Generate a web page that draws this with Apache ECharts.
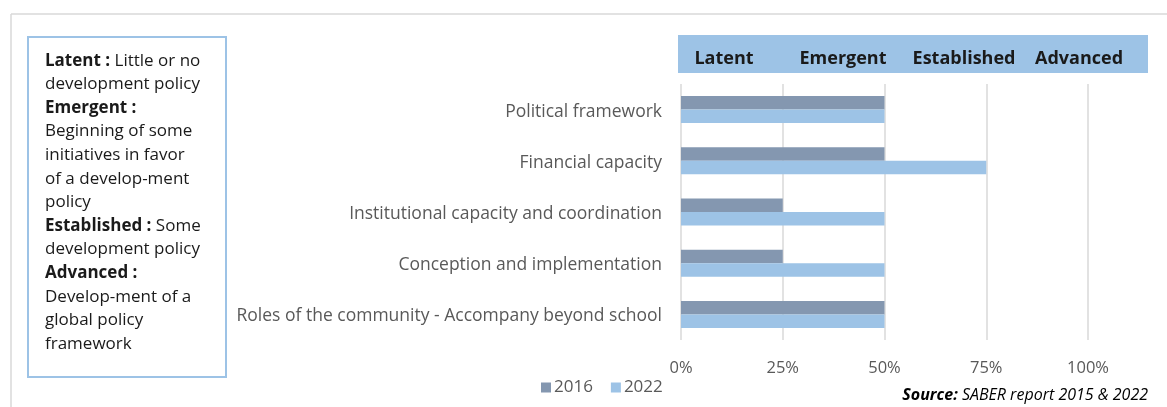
<!DOCTYPE html>
<html>
<head>
<meta charset="utf-8">
<script src="https://cdn.jsdelivr.net/npm/echarts@6/dist/echarts.min.js"></script>
<style>
  html, body { margin: 0; padding: 0; background: #fff; }
  #chart { width: 1167px; height: 407px; }
</style>
</head>
<body>
<div id="chart"></div>
<script>
// Policy dimensions (top to bottom)
const categories = [
  'Political framework',
  'Financial capacity',
  'Institutional capacity and coordination',
  'Conception and implementation',
  'Roles of the community - Accompany beyond school'
];
// Development level reached, in percent
const values2016 = [50, 50, 25, 25, 50];
const values2022 = [50, 75, 50, 50, 50];
const seriesNames = ['2016', '2022'];
// Stage names across the top band
const stageLabels = ['Latent', 'Emergent', 'Established', 'Advanced'];
const xTicks = [0, 25, 50, 75, 100];

const FONT = '"Open Sans", "Noto Sans", sans-serif';
const chart = echarts.init(document.getElementById('chart'), null, { renderer: 'canvas' });

// Definition box text, as rich-text lines
const boxLines = [
  '{b|Latent :} Little or no',
  'development policy',
  '{b|Emergent :}',
  'Beginning of some',
  'initiatives in favor',
  'of a develop-ment',
  'policy',
  '{b|Established :} Some',
  'development policy',
  '{b|Advanced :}',
  'Develop-ment of a',
  'global policy',
  'framework'
];

const stageX = [724, 843, 964, 1079];

const graphics = [
  // outer frame lines
  { type: 'line', shape: { x1: 11, y1: 14, x2: 1167, y2: 14 }, style: { stroke: '#d9d9d9', lineWidth: 1.5 }, silent: true },
  { type: 'line', shape: { x1: 11, y1: 14, x2: 11, y2: 407 }, style: { stroke: '#d9d9d9', lineWidth: 1.5 }, silent: true },
  // definition box
  { type: 'rect', shape: { x: 28, y: 37, width: 198, height: 340 }, style: { fill: '#fff', stroke: '#9dc3e6', lineWidth: 2 } },
  {
    type: 'text', left: 45, top: 49,
    style: {
      text: boxLines.join('\n'),
      font: '17px ' + FONT,
      fill: '#1a1a1a',
      lineHeight: 23.6,
      rich: { b: { fontWeight: 'bold', fontFamily: FONT, fontSize: 17, fill: '#1a1a1a', lineHeight: 23.6 } }
    }
  },
  // stage band
  { type: 'rect', shape: { x: 678, y: 35, width: 470, height: 38 }, style: { fill: '#9dc3e6' } }
];
stageLabels.forEach((s, i) => {
  graphics.push({
    type: 'text', x: stageX[i], y: 58.5,
    style: { text: s, font: 'bold 18px ' + FONT, fill: '#1a1a1a', align: 'center', verticalAlign: 'middle' }
  });
});
// source note
graphics.push({
  type: 'text', right: 19, top: 387,
  style: {
    text: '{b|Source:} SABER report 2015 & 2022',
    font: 'italic 16px ' + FONT, fill: '#000',
    rich: { b: { fontStyle: 'italic', fontWeight: 'bold', fontFamily: FONT, fontSize: 16, fill: '#000' } }
  }
});

chart.setOption({
  animation: false,
  grid: { left: 681, right: 79, top: 84, height: 256, containLabel: false },
  legend: {
    data: seriesNames,
    left: 536, top: 374,
    itemWidth: 10, itemHeight: 10, itemGap: 18,
    icon: 'rect',
    textStyle: { color: '#595959', fontSize: 17, fontFamily: FONT, padding: [0, 0, 0, -2] }
  },
  xAxis: {
    type: 'value', min: 0, max: 100, interval: 25,
    axisLine: { show: false }, axisTick: { show: false },
    splitLine: { show: true, lineStyle: { color: '#d9d9d9', width: 1.5 } },
    axisLabel: { color: '#595959', fontSize: 16.5, fontFamily: FONT, margin: 20,
      formatter: v => xTicks.includes(v) ? v + '%' : '' }
  },
  yAxis: {
    type: 'category', data: categories, inverse: true,
    axisLine: { show: false }, axisTick: { show: false },
    axisLabel: {
      color: '#595959', fontSize: 17.5, fontFamily: FONT, margin: 19,
      formatter: v => '{c|' + v + '}',
      rich: { c: { color: '#595959', fontSize: 17.5, fontFamily: FONT, padding: [4, 0, 0, 0] } }
    }
  },
  series: [
    { name: seriesNames[0], type: 'bar', data: values2016, barWidth: 13.5, barGap: '0%',
      itemStyle: { color: '#8497b0' } },
    { name: seriesNames[1], type: 'bar', data: values2022, barWidth: 13.5, barGap: '0%',
      itemStyle: { color: '#9dc3e6' } }
  ],
  graphic: graphics
});
</script>
</body>
</html>
